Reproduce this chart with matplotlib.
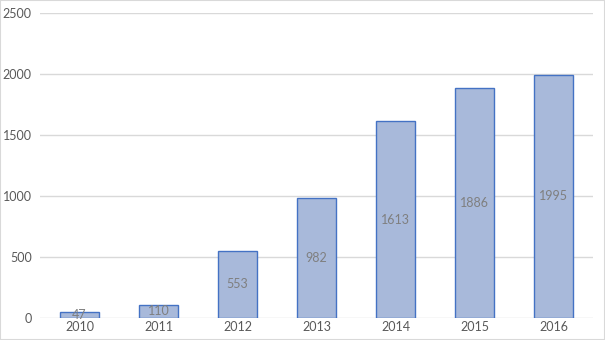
import matplotlib
matplotlib.use("Agg")
import matplotlib.pyplot as plt
from matplotlib.patches import Rectangle

years = ["2010", "2011", "2012", "2013", "2014", "2015", "2016"]
values = [47, 110, 553, 982, 1613, 1886, 1995]
yticks = [0, 500, 1000, 1500, 2000, 2500]

plt.rcParams['font.family'] = ['Lato', 'DejaVu Sans']
fig = plt.figure(figsize=(6.05, 3.4), dpi=100)
ax = fig.add_axes([40/605, 22/340, 553/605, 305/340])

x = list(range(len(years)))
bars = ax.bar(x, values, width=0.5, color='#a8b9da', edgecolor='#4472c4', linewidth=1.0, zorder=3)
for xi, v in zip(x, values):
    ax.text(xi, v/2, str(v), ha='center', va='center', fontsize=9, color='#7f7f7f', zorder=4)

ax.set_xlim(-0.5, len(years)-0.5)
ax.set_ylim(0, 2500)
ax.set_yticks(yticks)
ax.set_xticks(x)
ax.set_xticklabels(years)
ax.grid(axis='y', color='#d9d9d9', linewidth=1.0, zorder=0)
for s in ax.spines.values():
    s.set_visible(False)
ax.tick_params(axis='both', length=0, labelsize=9, labelcolor='#595959')
ax.tick_params(axis='y', pad=6)
ax.tick_params(axis='x', pad=2)

fig.patches.append(Rectangle((0, 0), 1, 1, transform=fig.transFigure, fill=False,
                             edgecolor='#d9d9d9', linewidth=1.5))
fig.savefig("out.png", dpi=100)
